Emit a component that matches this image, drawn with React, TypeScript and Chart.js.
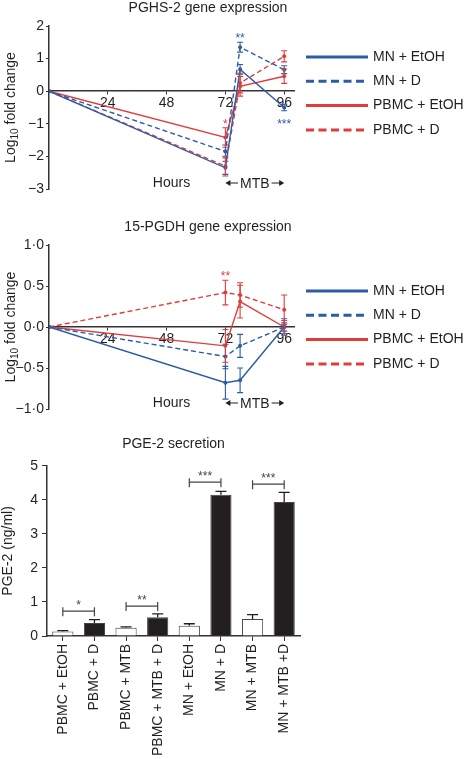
import React, { useEffect, useRef } from 'react';
import { Chart, registerables } from 'chart.js';

Chart.register(...registerables);

const FONT = '"Liberation Sans", Arial, Helvetica, sans-serif';
Chart.defaults.font.family = FONT;

const BLUE = '#2d5ca6';
const RED = '#e03c3c';
const INK = '#231f20';
const AXIS = '#333333';

// ---------- shared line-chart data ----------
const HOURS = [0, 72, 78, 96];
const HOUR_TICKS = [24, 48, 72, 96];
const SERIES_LABELS = ['MN + EtOH', 'MN + D', 'PBMC + EtOH', 'PBMC + D'];
const SERIES_COLORS = [BLUE, BLUE, RED, RED];
const SERIES_DASHED = [false, true, false, true];

// ---------- PGHS-2 gene expression ----------
const PGHS_MN_ETOH = [0, -2.35, 0.67, -0.5];
const PGHS_MN_D = [0, -1.85, 1.35, 0.66];
const PGHS_PBMC_ETOH = [0, -1.42, 0.15, 0.46];
const PGHS_PBMC_D = [0, -2.3, 0.25, 1.07];
const PGHS_MN_ETOH_ERR = [0, 0.2, 0.15, 0.1];
const PGHS_MN_D_ERR = [0, 0.2, 0.15, 0.12];
const PGHS_PBMC_ETOH_ERR = [0, 0.3, 0.3, 0.22];
const PGHS_PBMC_D_ERR = [0, 0.3, 0.3, 0.17];
const PGHS_STARS = [
  { series: 3, hour: 72, value: -0.92, text: '*' },
  { series: 1, hour: 78, value: 1.72, text: '**' },
  { series: 0, hour: 96, value: -0.92, text: '***' },
];

// ---------- 15-PGDH gene expression ----------
const PGDH_MN_ETOH = [0, -0.68, -0.65, 0];
const PGDH_MN_D = [0, -0.36, -0.23, 0];
const PGDH_PBMC_ETOH = [0, -0.23, 0.31, 0];
const PGDH_PBMC_D = [0, 0.42, 0.39, 0.21];
const PGDH_MN_ETOH_ERR = [0, 0.2, 0.15, 0.05];
const PGDH_MN_D_ERR = [0, 0.15, 0.14, 0.1];
const PGDH_PBMC_ETOH_ERR = [0, 0.2, 0.2, 0.08];
const PGDH_PBMC_D_ERR = [0, 0.15, 0.15, 0.18];
const PGDH_STARS = [{ series: 3, hour: 72, value: 0.66, text: '**' }];

// ---------- PGE-2 secretion ----------
const PGE2_LABELS = [
  'PBMC + EtOH',
  'PBMC + D',
  'PBMC + MTB',
  'PBMC + MTB + D',
  'MN + EtOH',
  'MN + D',
  'MN + MTB',
  'MN + MTB +D',
];
const PGE2_MEAN = [0.13, 0.38, 0.24, 0.55, 0.3, 4.15, 0.5, 3.94];
const PGE2_SEM = [0.03, 0.1, 0.03, 0.1, 0.06, 0.1, 0.13, 0.28];
const PGE2_WITH_D = [false, true, false, true, false, true, false, true];
const PGE2_BRACKETS = [
  { from: 0, to: 1, value: 0.73, text: '*' },
  { from: 2, to: 3, value: 0.88, text: '**' },
  { from: 4, to: 5, value: 4.52, text: '***' },
  { from: 6, to: 7, value: 4.46, text: '***' },
];

type Star = { series: number; hour: number; value: number; text: string };
interface LinePanel {
  title: string;
  values: number[][];
  errors: number[][];
  stars: Star[];
  yMin: number;
  yMax: number;
  yStep: number;
  fmt: (v: number) => string;
  padTop: number;
  padBottom: number;
  titleY: number;
  legendTop: number;
}

function drawLogTitle(ctx: CanvasRenderingContext2D, cx: number, cy: number) {
  ctx.save();
  ctx.translate(cx, cy);
  ctx.rotate(-Math.PI / 2);
  ctx.textAlign = 'left';
  ctx.textBaseline = 'alphabetic';
  ctx.fillStyle = INK;
  const big = `14px ${FONT}`;
  const small = `10px ${FONT}`;
  ctx.font = big;
  const w1 = ctx.measureText('Log').width;
  const w3 = ctx.measureText(' fold change').width;
  ctx.font = small;
  const w2 = ctx.measureText('10').width;
  const sx = -(w1 + w2 + w3) / 2;
  const base = 5;
  ctx.font = big;
  ctx.fillText('Log', sx, base);
  ctx.font = small;
  ctx.fillText('10', sx + w1, base + 3);
  ctx.font = big;
  ctx.fillText(' fold change', sx + w1 + w2, base);
  ctx.restore();
}

function arrowHead(ctx: CanvasRenderingContext2D, x: number, y: number, dir: number) {
  ctx.beginPath();
  ctx.moveTo(x, y);
  ctx.lineTo(x - dir * 5, y - 3);
  ctx.lineTo(x - dir * 5, y + 3);
  ctx.closePath();
  ctx.fill();
}

function buildLineConfig(p: LinePanel): any {
  const plugin = {
    id: 'linePanelDecor',
    afterDatasetsDraw(chart: any) {
      const { ctx } = chart;
      const x = chart.scales.x;
      const y = chart.scales.y;
      ctx.save();
      ctx.setLineDash([]);
      ctx.lineWidth = 1.1;
      p.errors.forEach((errs, s) => {
        ctx.strokeStyle = SERIES_COLORS[s];
        p.values[s].forEach((v, i) => {
          const e = errs[i];
          if (!e) return;
          const px = x.getPixelForValue(HOURS[i]);
          const t = y.getPixelForValue(v + e);
          const b = y.getPixelForValue(v - e);
          ctx.beginPath();
          ctx.moveTo(px, t);
          ctx.lineTo(px, b);
          ctx.moveTo(px - 3, t);
          ctx.lineTo(px + 3, t);
          ctx.moveTo(px - 3, b);
          ctx.lineTo(px + 3, b);
          ctx.stroke();
        });
      });
      ctx.font = `12px ${FONT}`;
      ctx.textAlign = 'center';
      ctx.textBaseline = 'alphabetic';
      p.stars.forEach((st) => {
        ctx.fillStyle = SERIES_COLORS[st.series];
        ctx.fillText(st.text, x.getPixelForValue(st.hour), y.getPixelForValue(st.value) + 7);
      });
      ctx.restore();
    },
    afterDraw(chart: any) {
      const { ctx, chartArea } = chart;
      const x = chart.scales.x;
      ctx.save();
      ctx.fillStyle = INK;
      ctx.font = `14px ${FONT}`;
      ctx.textAlign = 'center';
      ctx.textBaseline = 'middle';
      ctx.fillText(p.title, 208, p.titleY);

      const by = chartArea.bottom - 6;
      ctx.fillText('Hours', x.getPixelForValue(50), by);
      const x0 = x.getPixelForValue(72);
      const x1 = x.getPixelForValue(96);
      const xm = (x0 + x1) / 2;
      ctx.fillText('MTB', xm, by + 1);
      const hw = ctx.measureText('MTB').width / 2 + 2;
      ctx.strokeStyle = INK;
      ctx.lineWidth = 1;
      ctx.beginPath();
      ctx.moveTo(x0 + 3, by);
      ctx.lineTo(xm - hw, by);
      ctx.moveTo(xm + hw, by);
      ctx.lineTo(x1 - 3, by);
      ctx.stroke();
      arrowHead(ctx, x0, by, -1);
      arrowHead(ctx, x1, by, 1);

      drawLogTitle(ctx, 10, (chartArea.top + chartArea.bottom) / 2);

      const lx0 = chartArea.right + 12;
      const lx1 = lx0 + 62;
      SERIES_LABELS.forEach((lab, s) => {
        const ly = p.legendTop + s * 24.3;
        ctx.strokeStyle = SERIES_COLORS[s];
        ctx.lineWidth = 3;
        ctx.setLineDash(SERIES_DASHED[s] ? [8, 4.5] : []);
        ctx.beginPath();
        ctx.moveTo(lx0, ly);
        ctx.lineTo(lx1, ly);
        ctx.stroke();
        ctx.setLineDash([]);
        ctx.fillStyle = INK;
        ctx.textAlign = 'left';
        ctx.fillText(lab, lx1 + 5, ly);
      });
      ctx.restore();
    },
  };

  return {
    type: 'line',
    data: {
      datasets: p.values.map((vals, s) => ({
        label: SERIES_LABELS[s],
        data: vals.map((v, i) => ({ x: HOURS[i], y: v })),
        borderColor: SERIES_COLORS[s],
        backgroundColor: SERIES_COLORS[s],
        borderDash: SERIES_DASHED[s] ? [5, 3] : [],
        borderWidth: 1.4,
        pointRadius: 2,
        pointHoverRadius: 2,
        pointBorderWidth: 0,
        tension: 0,
      })),
    },
    options: {
      responsive: false,
      animation: false,
      events: [],
      layout: { padding: { top: p.padTop, bottom: p.padBottom, left: 0, right: 172 } },
      plugins: {
        legend: { display: false },
        tooltip: { enabled: false },
        title: { display: false },
      },
      scales: {
        x: {
          type: 'linear',
          min: 0,
          max: 100,
          position: { y: 0 },
          afterBuildTicks: (s: any) => {
            s.ticks = HOUR_TICKS.map((v) => ({ value: v }));
          },
          ticks: {
            autoSkip: false,
            maxRotation: 0,
            padding: 1,
            color: INK,
            font: { size: 14, family: FONT },
            callback: (v: any) => String(v),
          },
          grid: { display: true, drawOnChartArea: false, tickLength: 3, color: AXIS },
          border: { display: true, color: AXIS, width: 1.5 },
        },
        y: {
          type: 'linear',
          min: p.yMin,
          max: p.yMax,
          afterFit: (s: any) => {
            s.width = 49;
          },
          ticks: {
            stepSize: p.yStep,
            padding: 2,
            color: INK,
            font: { size: 14, family: FONT },
            callback: (v: any) => p.fmt(Number(v)),
          },
          grid: { display: true, drawOnChartArea: false, tickLength: 3, color: AXIS },
          border: { display: true, color: AXIS, width: 1.5 },
        },
      },
    },
    plugins: [plugin],
  };
}

const MINUS = '\u2212';

function buildPghs() {
  return buildLineConfig({
    title: 'PGHS-2 gene expression',
    values: [PGHS_MN_ETOH, PGHS_MN_D, PGHS_PBMC_ETOH, PGHS_PBMC_D],
    errors: [PGHS_MN_ETOH_ERR, PGHS_MN_D_ERR, PGHS_PBMC_ETOH_ERR, PGHS_PBMC_D_ERR],
    stars: PGHS_STARS,
    yMin: -3,
    yMax: 2,
    yStep: 1,
    fmt: (v) => (v < 0 ? MINUS + Math.abs(v) : String(v)),
    padTop: 26,
    padBottom: 26,
    titleY: 8,
    legendTop: 57,
  });
}

function buildPgdh() {
  return buildLineConfig({
    title: '15-PGDH gene expression',
    values: [PGDH_MN_ETOH, PGDH_MN_D, PGDH_PBMC_ETOH, PGDH_PBMC_D],
    errors: [PGDH_MN_ETOH_ERR, PGDH_MN_D_ERR, PGDH_PBMC_ETOH_ERR, PGDH_PBMC_D_ERR],
    stars: PGDH_STARS,
    yMin: -1,
    yMax: 1,
    yStep: 0.5,
    fmt: (v) => (v < 0 ? MINUS : '') + Math.abs(v).toFixed(1).replace('.', '\u00b7'),
    padTop: 30,
    padBottom: 21,
    titleY: 12,
    legendTop: 76,
  });
}

function buildPge2(): any {
  const plugin = {
    id: 'pge2Decor',
    afterDatasetsDraw(chart: any) {
      const { ctx } = chart;
      const y = chart.scales.y;
      const meta = chart.getDatasetMeta(0);
      ctx.save();
      ctx.strokeStyle = INK;
      ctx.lineWidth = 1.3;
      meta.data.forEach((bar: any, i: number) => {
        const top = y.getPixelForValue(PGE2_MEAN[i] + PGE2_SEM[i]);
        const base = y.getPixelForValue(PGE2_MEAN[i]);
        ctx.beginPath();
        ctx.moveTo(bar.x, base);
        ctx.lineTo(bar.x, top);
        ctx.moveTo(bar.x - 5.5, top);
        ctx.lineTo(bar.x + 5.5, top);
        ctx.stroke();
      });
      ctx.strokeStyle = '#444';
      ctx.lineWidth = 1.2;
      ctx.fillStyle = '#444';
      ctx.font = `12px ${FONT}`;
      ctx.textAlign = 'center';
      ctx.textBaseline = 'alphabetic';
      PGE2_BRACKETS.forEach((br) => {
        const xa = meta.data[br.from].x;
        const xb = meta.data[br.to].x;
        const py = y.getPixelForValue(br.value);
        ctx.beginPath();
        ctx.moveTo(xa, py);
        ctx.lineTo(xb, py);
        ctx.moveTo(xa, py - 4);
        ctx.lineTo(xa, py + 5);
        ctx.moveTo(xb, py - 4);
        ctx.lineTo(xb, py + 5);
        ctx.stroke();
        ctx.fillText(br.text, (xa + xb) / 2, py - 9 + 7);
      });
      ctx.restore();
    },
  };

  return {
    type: 'bar',
    data: {
      labels: PGE2_LABELS,
      datasets: [
        {
          label: 'PGE-2',
          data: PGE2_MEAN,
          backgroundColor: PGE2_WITH_D.map((d) => (d ? INK : '#ffffff')),
          borderColor: '#444444',
          borderWidth: 1,
          categoryPercentage: 1,
          barPercentage: 0.67,
        },
      ],
    },
    options: {
      responsive: false,
      animation: false,
      events: [],
      layout: { padding: { top: 0, bottom: 0, left: 0, right: 166 } },
      plugins: {
        legend: { display: false },
        tooltip: { enabled: false },
        title: {
          display: true,
          text: 'PGE-2 secretion',
          fullSize: false,
          color: INK,
          font: { size: 14, family: FONT, weight: 'normal' },
          padding: { top: 6, bottom: 13 },
        },
      },
      scales: {
        x: {
          type: 'category',
          afterFit: (s: any) => {
            s.height = 123;
          },
          ticks: {
            autoSkip: false,
            minRotation: 90,
            maxRotation: 90,
            padding: 3,
            color: INK,
            font: { size: 14, family: FONT },
          },
          grid: { display: true, drawOnChartArea: false, offset: false, tickLength: 5, color: AXIS },
          border: { display: true, color: AXIS, width: 1.5 },
        },
        y: {
          type: 'linear',
          min: 0,
          max: 5,
          afterFit: (s: any) => {
            s.width = 47;
          },
          title: {
            display: true,
            text: 'PGE-2 (ng/ml)',
            color: INK,
            font: { size: 14, family: FONT },
            padding: 0,
          },
          ticks: {
            stepSize: 1,
            padding: 4,
            color: INK,
            font: { size: 14, family: FONT },
          },
          grid: { display: true, drawOnChartArea: false, tickLength: 5, color: AXIS },
          border: { display: true, color: AXIS, width: 1.5 },
        },
      },
    },
    plugins: [plugin],
  };
}

function ChartCanvas({ top, height, build }: { top: number; height: number; build: () => any }) {
  const ref = useRef<HTMLCanvasElement>(null);
  useEffect(() => {
    const chart = new Chart(ref.current as HTMLCanvasElement, build());
    return () => chart.destroy();
  }, []);
  return (
    <canvas
      ref={ref}
      width={466}
      height={height}
      style={{ position: 'absolute', left: 0, top, width: 466, height, display: 'block' }}
    />
  );
}

export default function App() {
  return (
    <div
      style={{
        position: 'absolute',
        left: 0,
        top: 0,
        width: 466,
        height: 759,
        background: '#ffffff',
        overflow: 'hidden',
      }}
    >
      <ChartCanvas top={0} height={215} build={buildPghs} />
      <ChartCanvas top={215} height={215} build={buildPgdh} />
      <ChartCanvas top={430} height={329} build={buildPge2} />
    </div>
  );
}
